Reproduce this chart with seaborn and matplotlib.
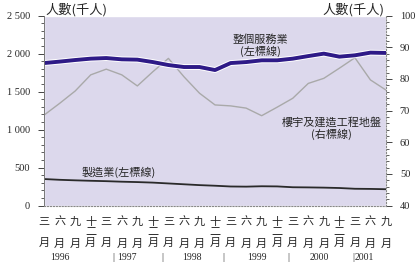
import numpy as np
import pandas as pd
import seaborn as sns
import matplotlib.pyplot as plt
import matplotlib.patheffects as pe
from matplotlib.ticker import MultipleLocator, FuncFormatter

# quarters from Mar 1996 to Sep 2001
quarter_labels = ['三\n\u3000\n月', '六\n\u3000\n月', '九\n\u3000\n月', '十\n二\n月'] * 5 + ['三\n\u3000\n月', '六\n\u3000\n月', '九\n\u3000\n月']
years = ['1996', '1997', '1998', '1999', '2000', '2001']

# 整個服務業 (left axis, thousands)
services = [1876, 1895, 1916, 1934, 1942, 1925, 1921, 1889, 1850, 1824, 1824, 1784,
            1876, 1889, 1912, 1912, 1934, 1968, 2000, 1960, 1978, 2013, 2009]
# 製造業 (left axis, thousands)
manufacturing = [350, 340, 333, 327, 322, 315, 310, 303, 292, 281, 270, 262,
                 252, 250, 255, 253, 242, 240, 237, 232, 222, 220, 216]
# 樓宇及建造工程地盤 (right axis, thousands)
construction = [68.6, 72.3, 76.2, 81.3, 83.1, 81.3, 77.8, 82.3, 86.5, 80.7, 75.5, 71.8,
                71.5, 70.8, 68.4, 71.1, 73.9, 78.6, 80.2, 83.4, 86.7, 79.7, 76.5]

df = pd.DataFrame({'q': np.arange(len(services)), 'services': services,
                   'manufacturing': manufacturing, 'construction': construction})

sns.set_style('white')
plt.rcParams['font.family'] = ['Noto Sans CJK TC', 'DejaVu Sans']
serif = ['Liberation Serif']

fig = plt.figure(figsize=(4.2, 2.65), dpi=100)
rect = [0.105, 0.224, 0.814, 0.717]
fig.patches.append(plt.Rectangle(rect[:2], rect[2], rect[3], transform=fig.transFigure,
                                 facecolor='#dcd8ec', zorder=-10))
ax = fig.add_axes(rect)
ax2 = ax.twinx()
# left axis (services, manufacturing) drawn above the right-axis line
ax2.set_zorder(0)
ax.set_zorder(1)
ax.set_facecolor('none')
ax2.patch.set_visible(False)

sns.lineplot(data=df, x='q', y='construction', ax=ax2, color='#a9a9a9', linewidth=1.0)
sns.lineplot(data=df, x='q', y='services', ax=ax, color='#2e1a87', linewidth=2.8,
             path_effects=[pe.Stroke(linewidth=4.2, foreground='white'), pe.Normal()])
sns.lineplot(data=df, x='q', y='manufacturing', ax=ax, color='#2a2a2a', linewidth=1.3)

ax.set_xlim(0, 22)
ax.set_ylim(0, 2500)
ax2.set_ylim(40, 100)
ax.set_xlabel('')
ax.set_ylabel('')
ax2.set_ylabel('')

ax.yaxis.set_major_locator(MultipleLocator(500))
ax.yaxis.set_minor_locator(MultipleLocator(100))
ax.yaxis.set_major_formatter(FuncFormatter(lambda v, p: f'{int(v):,}'.replace(',', ' ')))
ax2.yaxis.set_major_locator(MultipleLocator(10))
ax2.yaxis.set_minor_locator(MultipleLocator(2))

ax.set_xticks(df['q'])
ax.set_xticklabels(quarter_labels, fontsize=8, linespacing=1.1)
ax.tick_params(axis='x', length=3, width=0.7, color='#444444', pad=5)
ax.tick_params(axis='y', which='major', length=4, width=0.7, color='#444444', labelsize=7.5, pad=6)
ax.tick_params(axis='y', which='minor', length=2, width=0.6, color='#444444')
ax2.tick_params(axis='y', which='major', length=4, width=0.7, color='#444444', labelsize=7.5, pad=6)
ax2.tick_params(axis='y', which='minor', length=2, width=0.6, color='#444444')
for lab in ax.get_yticklabels() + ax2.get_yticklabels():
    lab.set_family(serif)

ax.spines['top'].set_visible(False)
ax2.spines['top'].set_visible(False)
ax2.spines['left'].set_visible(False)
ax2.spines['bottom'].set_visible(False)
ax.spines['right'].set_visible(False)
ax.spines['left'].set_color('#777777')
ax.spines['left'].set_linewidth(0.7)
ax.spines['bottom'].set_color('#888888')
ax.spines['bottom'].set_linestyle(':')
ax2.spines['right'].set_color('#888888')
ax2.spines['right'].set_linestyle(':')

# axis titles
ax.text(0.005, 0.995, '人數(千人)', transform=ax.transAxes, fontsize=9.5, ha='left', va='bottom')
ax.text(0.995, 0.995, '人數(千人)', transform=ax.transAxes, fontsize=9.5, ha='right', va='bottom')

# series annotations
ax.text(13.9, 2110, '整個服務業\n(左標線)', fontsize=8, ha='center', va='center', linespacing=1.1)
ax2.text(18.5, 64.5, '樓宇及建造工程地盤\n(右標線)', fontsize=8, ha='center', va='center', linespacing=1.1)
ax.text(4.8, 440, '製造業(左標線)', fontsize=8, ha='center', va='center')

# year labels and separators under the ticks
year_pos = [1.0, 5.3, 9.5, 13.7, 17.7, 20.6]
sep_pos = [4.45, 7.6, 11.5, 15.7, 19.9]
ytr = ax.get_xaxis_transform()
for x, yr in zip(year_pos, years):
    ax.text(x, -0.275, yr, transform=ytr, fontsize=7, family=serif, ha='center', va='center')
for x in sep_pos:
    ax.text(x, -0.275, '|', transform=ytr, fontsize=7.5, family=serif, ha='center', va='center')

fig.savefig('out.png', dpi=100)
